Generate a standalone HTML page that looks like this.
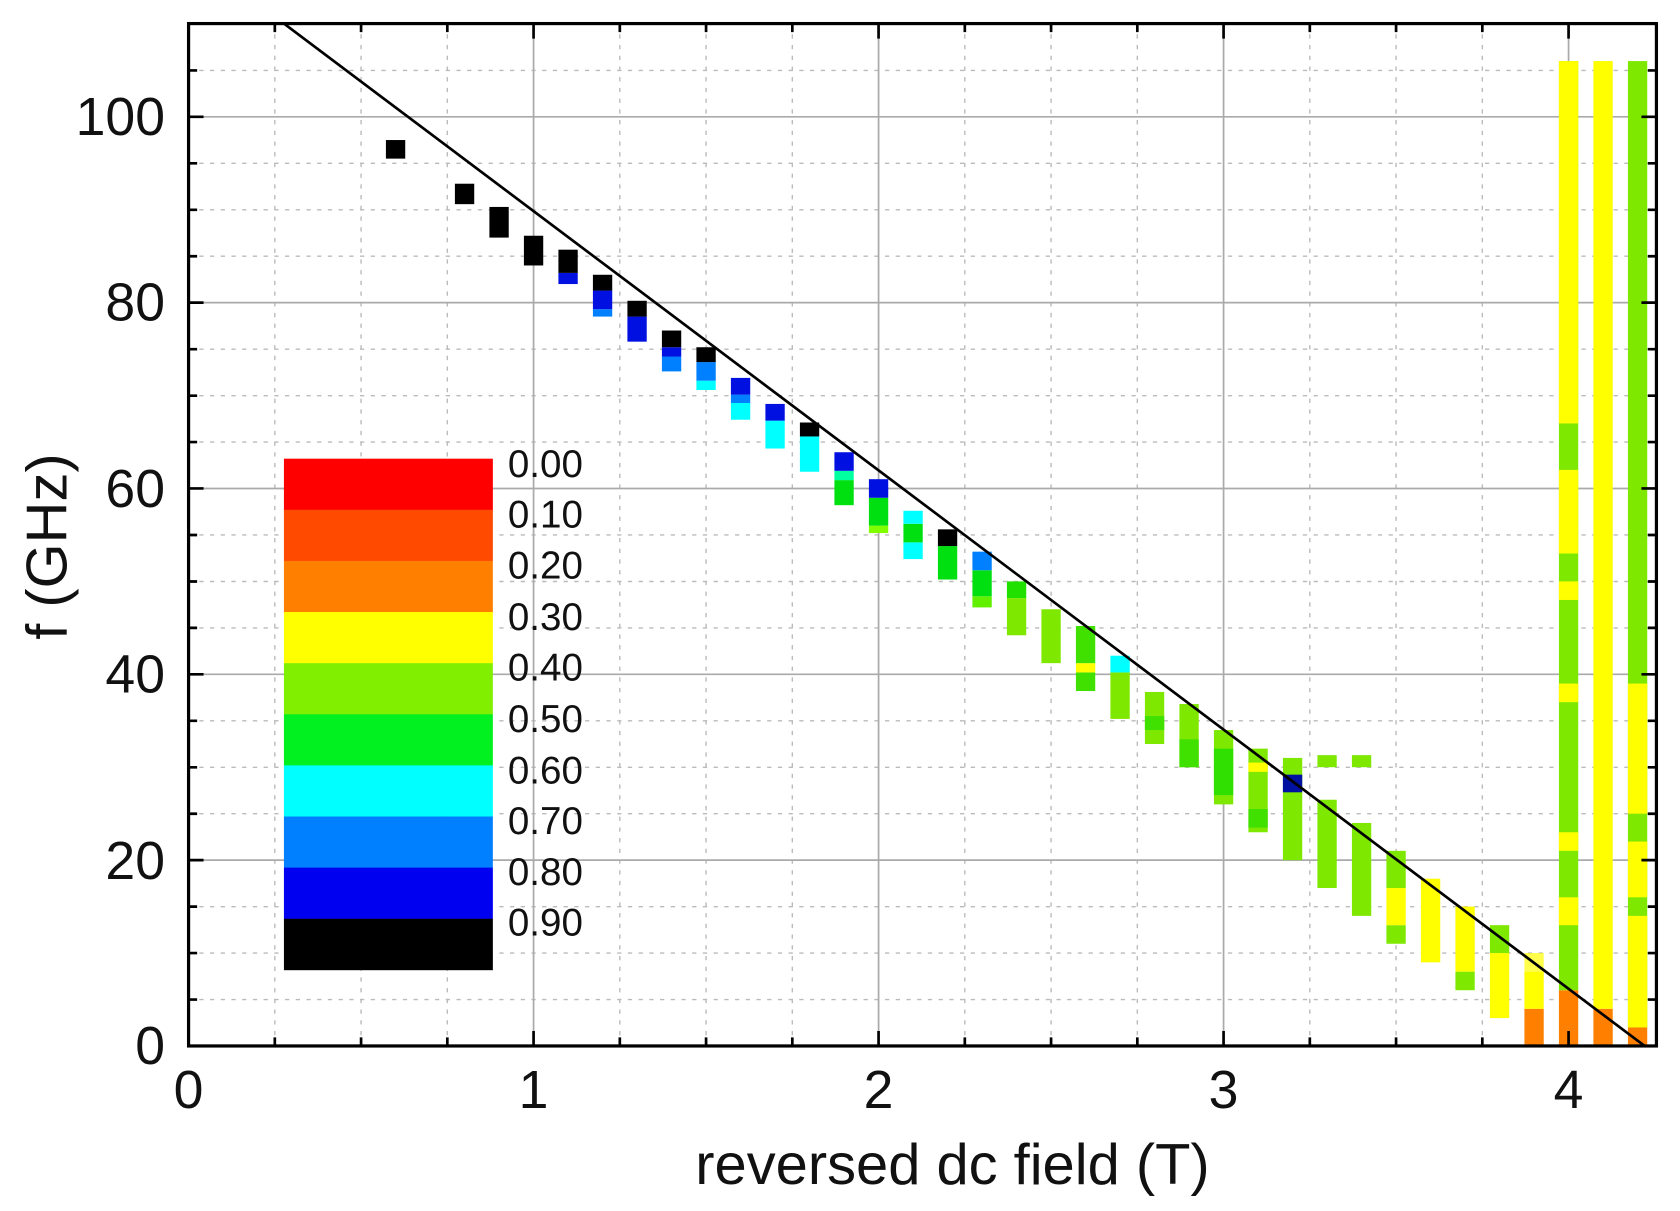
<!DOCTYPE html>
<html><head><meta charset="utf-8"><style>
html,body{margin:0;padding:0;background:#fff;}
svg{display:block;}
text{font-family:"Liberation Sans",Arial,sans-serif;fill:#111;}
</style></head><body>
<svg width="1680" height="1211" viewBox="0 0 1568 1130" preserveAspectRatio="none" xmlns="http://www.w3.org/2000/svg">
<rect width="1568" height="1130" fill="#fff"/>
<g stroke="#bbb" stroke-width="1.3" stroke-dasharray="4,6">
<path d="M256.5,22V976M337,22V976M417.5,22V976M578.5,22V976M659,22V976M739.5,22V976M900.5,22V976M981,22V976M1061.5,22V976M1222.5,22V976M1303,22V976M1383.5,22V976"/>
<path d="M176,932.7H1546M176,889.3H1546M176,846H1546M176,759.3H1546M176,716H1546M176,672.6H1546M176,585.9H1546M176,542.6H1546M176,499.2H1546M176,412.5H1546M176,369.2H1546M176,325.8H1546M176,239.1H1546M176,195.8H1546M176,152.4H1546M176,65.7H1546"/>
</g>
<g stroke="#aaa" stroke-width="1.6">
<path d="M498,22V976M820,22V976M1142,22V976M1464,22V976"/>
<path d="M176,802.6H1546M176,629.2H1546M176,455.8H1546M176,282.4H1546M176,109H1546"/>
</g>
<g transform="translate(176,976) scale(322,-8.67)">
<rect x="0.572" y="95.5" width="0.056" height="2" fill="#000"/>
<rect x="0.772" y="90.6" width="0.056" height="2.2" fill="#000"/>
<rect x="0.872" y="87" width="0.056" height="3.3" fill="#000"/>
<rect x="0.972" y="84" width="0.056" height="3.2" fill="#000"/>
<rect x="1.072" y="82" width="0.056" height="1.2" fill="#0010e0"/><rect x="1.072" y="83.2" width="0.056" height="2.5" fill="#000"/>
<rect x="1.172" y="78.5" width="0.056" height="0.8" fill="#0080ff"/><rect x="1.172" y="79.3" width="0.056" height="2" fill="#0010e0"/><rect x="1.172" y="81.3" width="0.056" height="1.7" fill="#000"/>
<rect x="1.272" y="75.8" width="0.056" height="2.7" fill="#0010e0"/><rect x="1.272" y="78.5" width="0.056" height="1.7" fill="#000"/>
<rect x="1.372" y="72.6" width="0.056" height="1.6" fill="#0080ff"/><rect x="1.372" y="74.2" width="0.056" height="1" fill="#0010e0"/><rect x="1.372" y="75.2" width="0.056" height="1.8" fill="#000"/>
<rect x="1.472" y="70.6" width="0.056" height="1" fill="#00ffff"/><rect x="1.472" y="71.6" width="0.056" height="2" fill="#0080ff"/><rect x="1.472" y="73.6" width="0.056" height="1.6" fill="#000"/>
<rect x="1.572" y="67.4" width="0.056" height="1.8" fill="#00ffff"/><rect x="1.572" y="69.2" width="0.056" height="0.9" fill="#0080ff"/><rect x="1.572" y="70.1" width="0.056" height="1.8" fill="#0010e0"/>
<rect x="1.672" y="64.3" width="0.056" height="3" fill="#00ffff"/><rect x="1.672" y="67.3" width="0.056" height="1.8" fill="#0010e0"/>
<rect x="1.772" y="61.8" width="0.056" height="3.8" fill="#00ffff"/><rect x="1.772" y="65.6" width="0.056" height="1.5" fill="#000"/>
<rect x="1.872" y="58.2" width="0.056" height="2.7" fill="#00e010"/><rect x="1.872" y="60.9" width="0.056" height="1" fill="#00ffa0"/><rect x="1.872" y="61.9" width="0.056" height="2" fill="#0010e0"/>
<rect x="1.972" y="55.2" width="0.056" height="0.8" fill="#80ff00"/><rect x="1.972" y="56" width="0.056" height="3" fill="#00e010"/><rect x="1.972" y="59" width="0.056" height="2" fill="#0010e0"/>
<rect x="2.072" y="52.4" width="0.056" height="1.8" fill="#00ffff"/><rect x="2.072" y="54.2" width="0.056" height="2" fill="#00e010"/><rect x="2.072" y="56.2" width="0.056" height="1.4" fill="#00ffff"/>
<rect x="2.172" y="50.2" width="0.056" height="3.6" fill="#00e010"/><rect x="2.172" y="53.8" width="0.056" height="1.8" fill="#000"/>
<rect x="2.272" y="47.2" width="0.056" height="1.2" fill="#60f000"/><rect x="2.272" y="48.4" width="0.056" height="2.8" fill="#00e010"/><rect x="2.272" y="51.2" width="0.056" height="2" fill="#0080ff"/>
<rect x="2.372" y="44.2" width="0.056" height="4" fill="#7fe800"/><rect x="2.372" y="48.2" width="0.056" height="1.8" fill="#20e000"/>
<rect x="2.472" y="41.2" width="0.056" height="5.8" fill="#7fe800"/>
<rect x="2.572" y="38.2" width="0.056" height="2" fill="#40e000"/><rect x="2.572" y="40.2" width="0.056" height="1" fill="#ffff00"/><rect x="2.572" y="41.2" width="0.056" height="4" fill="#40e000"/>
<rect x="2.672" y="35.2" width="0.056" height="5" fill="#7fe800"/><rect x="2.672" y="40.2" width="0.056" height="1.8" fill="#00ffff"/>
<rect x="2.772" y="32.5" width="0.056" height="5.6" fill="#7fe800"/><rect x="2.772" y="34" width="0.056" height="1.5" fill="#40e000"/>
<rect x="2.872" y="30" width="0.056" height="6.8" fill="#7fe800"/><rect x="2.872" y="30" width="0.056" height="3" fill="#40e000"/>
<rect x="2.972" y="26" width="0.056" height="8" fill="#7fe800"/><rect x="2.972" y="27" width="0.056" height="5" fill="#30e000"/>
<rect x="3.072" y="23" width="0.056" height="9" fill="#7fe800"/><rect x="3.072" y="23.5" width="0.056" height="2" fill="#40e000"/><rect x="3.072" y="29.5" width="0.056" height="1" fill="#ffff00"/>
<rect x="3.172" y="20" width="0.056" height="11" fill="#7fe800"/><rect x="3.172" y="27.3" width="0.056" height="1.9" fill="#0010a0"/>
<rect x="3.272" y="30" width="0.056" height="1.3" fill="#7fe800"/><rect x="3.372" y="30" width="0.056" height="1.3" fill="#7fe800"/>
<rect x="3.272" y="17" width="0.056" height="9.5" fill="#7fe800"/>
<rect x="3.372" y="14" width="0.056" height="10" fill="#7fe800"/>
<rect x="3.472" y="11" width="0.056" height="2" fill="#7fe800"/><rect x="3.472" y="13" width="0.056" height="4" fill="#ffff00"/><rect x="3.472" y="17" width="0.056" height="4" fill="#7fe800"/>
<rect x="3.572" y="9" width="0.056" height="9" fill="#ffff00"/>
<rect x="3.672" y="6" width="0.056" height="2" fill="#7fe800"/><rect x="3.672" y="8" width="0.056" height="7" fill="#ffff00"/>
<rect x="3.772" y="3" width="0.056" height="7" fill="#ffff00"/><rect x="3.772" y="10" width="0.056" height="3" fill="#7fe800"/>
<rect x="3.872" y="0" width="0.056" height="4" fill="#ff8000"/><rect x="3.872" y="4" width="0.056" height="4" fill="#ffff00"/><rect x="3.872" y="8" width="0.056" height="2" fill="#ffff00" opacity="0.7"/>
<rect x="3.972" y="0" width="0.056" height="6" fill="#ff8000"/><rect x="3.972" y="6" width="0.056" height="100" fill="#7fe800"/>
<rect x="3.972" y="37" width="0.056" height="2" fill="#ffff00"/><rect x="3.972" y="48" width="0.056" height="2" fill="#ffff00"/><rect x="3.972" y="53" width="0.056" height="9" fill="#ffff00"/><rect x="3.972" y="67" width="0.056" height="39" fill="#ffff00"/>
<rect x="3.972" y="13" width="0.056" height="3" fill="#ffff00"/><rect x="3.972" y="21" width="0.056" height="2" fill="#ffff00"/>
<rect x="4.072" y="0" width="0.056" height="4" fill="#ff8000"/><rect x="4.072" y="4" width="0.056" height="102" fill="#ffff00"/>
<rect x="4.172" y="0" width="0.056" height="2" fill="#ff8000"/><rect x="4.172" y="2" width="0.056" height="104" fill="#7fe800"/>
<rect x="4.172" y="2" width="0.056" height="12" fill="#ffff00"/><rect x="4.172" y="16" width="0.056" height="6" fill="#ffff00"/><rect x="4.172" y="25" width="0.056" height="14" fill="#ffff00"/>
</g>
<line x1="265" y1="22" x2="1535" y2="976" stroke="#000" stroke-width="2.5"/>
<g>
<rect x="265" y="428" width="195" height="48" fill="#ff0000"/>
<rect x="265" y="475.7" width="195" height="48" fill="#ff4a00"/>
<rect x="265" y="523.4" width="195" height="48" fill="#ff8000"/>
<rect x="265" y="571.1" width="195" height="48" fill="#ffff00"/>
<rect x="265" y="618.8" width="195" height="48" fill="#80f000"/>
<rect x="265" y="666.5" width="195" height="48" fill="#00f020"/>
<rect x="265" y="714.2" width="195" height="48" fill="#00ffff"/>
<rect x="265" y="761.9" width="195" height="48" fill="#0080ff"/>
<rect x="265" y="809.6" width="195" height="48" fill="#0000f0"/>
<rect x="265" y="857.3" width="195" height="48" fill="#000"/>
</g>
<g font-size="36">
<text x="474" y="445">0.00</text>
<text x="474" y="492">0.10</text>
<text x="474" y="540">0.20</text>
<text x="474" y="588">0.30</text>
<text x="474" y="635">0.40</text>
<text x="474" y="683">0.50</text>
<text x="474" y="731">0.60</text>
<text x="474" y="778">0.70</text>
<text x="474" y="826">0.80</text>
<text x="474" y="873">0.90</text>
</g>
<g stroke="#000" stroke-width="2.5">
<path d="M176,976v-14M498,976v-14M820,976v-14M1142,976v-14M1464,976v-14M176,22v14M498,22v14M820,22v14M1142,22v14M1464,22v14"/>
<path d="M256.5,976v-8M337,976v-8M417.5,976v-8M578.5,976v-8M659,976v-8M739.5,976v-8M900.5,976v-8M981,976v-8M1061.5,976v-8M1222.5,976v-8M1303,976v-8M1383.5,976v-8"/>
<path d="M256.5,22v8M337,22v8M417.5,22v8M578.5,22v8M659,22v8M739.5,22v8M900.5,22v8M981,22v8M1061.5,22v8M1222.5,22v8M1303,22v8M1383.5,22v8"/>
<path d="M176,802.6h14M176,629.2h14M176,455.8h14M176,282.4h14M176,109h14M1546,802.6h-14M1546,629.2h-14M1546,455.8h-14M1546,282.4h-14M1546,109h-14"/>
<path d="M176,932.7h8M176,889.3h8M176,846h8M176,759.3h8M176,716h8M176,672.6h8M176,585.9h8M176,542.6h8M176,499.2h8M176,412.5h8M176,369.2h8M176,325.8h8M176,239.1h8M176,195.8h8M176,152.4h8M176,65.7h8"/>
<path d="M1546,932.7h-8M1546,889.3h-8M1546,846h-8M1546,759.3h-8M1546,716h-8M1546,672.6h-8M1546,585.9h-8M1546,542.6h-8M1546,499.2h-8M1546,412.5h-8M1546,369.2h-8M1546,325.8h-8M1546,239.1h-8M1546,195.8h-8M1546,152.4h-8M1546,65.7h-8"/>
</g>
<rect x="176" y="22" width="1370" height="954" fill="none" stroke="#000" stroke-width="3"/>
<g font-size="50" text-anchor="end">
<text x="154" y="993">0</text>
<text x="154" y="820">20</text>
<text x="154" y="646">40</text>
<text x="154" y="473">60</text>
<text x="154" y="299">80</text>
<text x="154" y="126">100</text>
</g>
<g font-size="50" text-anchor="middle">
<text x="176" y="1034">0</text>
<text x="498" y="1034">1</text>
<text x="820" y="1034">2</text>
<text x="1142" y="1034">3</text>
<text x="1464" y="1034">4</text>
</g>
<text x="889" y="1105" font-size="54" text-anchor="middle">reversed dc field (T)</text>
<text transform="translate(62,510) rotate(-90)" font-size="54" text-anchor="middle">f (GHz)</text>
</svg>
</body></html>
